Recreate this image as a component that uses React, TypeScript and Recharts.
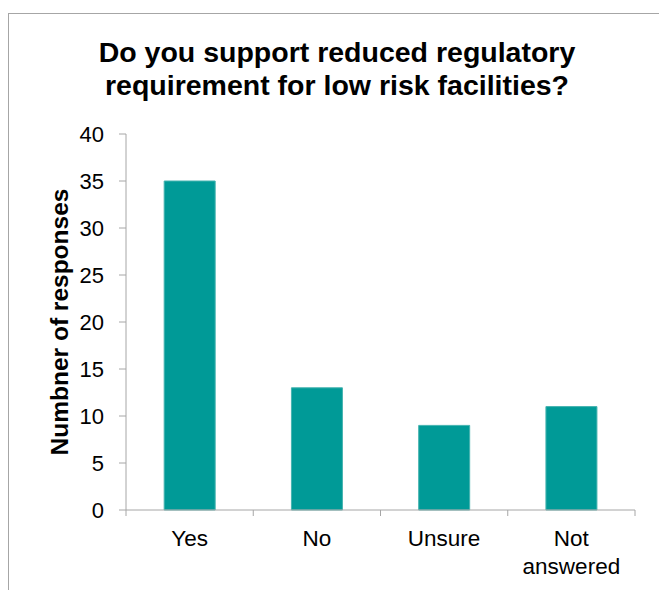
import { BarChart, Bar, XAxis, YAxis } from "recharts";

const categories = ["Yes", "No", "Unsure", "Not answered"];
const responses = [35, 13, 9, 11];
const yTicks = [0, 5, 10, 15, 20, 25, 30, 35, 40];
const titleLines = ["Do you support reduced regulatory", "requirement for low risk facilities?"];
const yLabel = "Numbner of responses";

const data = categories.map((name, i) => ({ name, value: responses[i] }));

const FONT = '"Liberation Sans", Arial, sans-serif';
const AXIS = "#a6a6a6";
const TEAL = "#009a97";

function CategoryTick(props: any) {
  const { x, y, payload, index } = props;
  const half = payload?.offset ?? 63.6;
  const axisY = y - 6;
  const words = String(payload.value).split(" ");
  const lines = words.length > 1 ? [words[0], words.slice(1).join(" ")] : words;
  return (
    <g>
      <line x1={x - half} x2={x - half} y1={axisY} y2={axisY + 6} stroke={AXIS} />
      {index === categories.length - 1 && (
        <line x1={x + half} x2={x + half} y1={axisY} y2={axisY + 6} stroke={AXIS} />
      )}
      <text x={x} y={axisY + 35.5} textAnchor="middle" fontSize={22.5} fill="#000" fontFamily={FONT}>
        {lines.map((l, i) => (
          <tspan key={i} x={x} dy={i === 0 ? 0 : 28}>
            {l}
          </tspan>
        ))}
      </text>
    </g>
  );
}

export default function App() {
  return (
    <div
      style={{
        position: "absolute",
        left: 0,
        top: 0,
        width: 659,
        height: 590,
        overflow: "hidden",
        background: "#fff",
        fontFamily: FONT,
      }}
    >
      <div
        style={{
          position: "absolute",
          left: 8,
          top: 13,
          width: 660,
          height: 590,
          borderTop: `1px solid ${AXIS}`,
          borderLeft: `1px solid ${AXIS}`,
        }}
      />
      <BarChart
        width={659}
        height={590}
        data={data}
        margin={{ top: 134, right: 24, bottom: 0, left: 0 }}
        barCategoryGap="30%"
        style={{ position: "absolute", left: 0, top: 0 }}
      >
        <XAxis
          dataKey="name"
          height={80}
          stroke={AXIS}
          tickLine={false}
          tickSize={6}
          tickMargin={0}
          interval={0}
          tick={<CategoryTick />}
        />
        <YAxis
          width={126}
          domain={[0, 40]}
          ticks={yTicks}
          interval={0}
          stroke={AXIS}
          tickSize={7}
          tickMargin={15}
          tick={{ fill: "#000", fontSize: 22, fontFamily: FONT }}
        />
        <Bar dataKey="value" fill={TEAL} stroke="#45b3b0" strokeWidth={1} isAnimationActive={false} />
      </BarChart>
      <svg width={659} height={590} style={{ position: "absolute", left: 0, top: 0, pointerEvents: "none" }}>
        {titleLines.map((line, i) => (
          <text
            key={i}
            x={337}
            y={62 + i * 33}
            textAnchor="middle"
            fontSize={28.5}
            fontWeight="bold"
            fontFamily={FONT}
            fill="#000"
          >
            {line}
          </text>
        ))}
        <text
          transform="translate(68, 322) rotate(-90)"
          textAnchor="middle"
          fontSize={24.5}
          fontWeight="bold"
          fontFamily={FONT}
          fill="#000"
        >
          {yLabel}
        </text>
      </svg>
    </div>
  );
}
